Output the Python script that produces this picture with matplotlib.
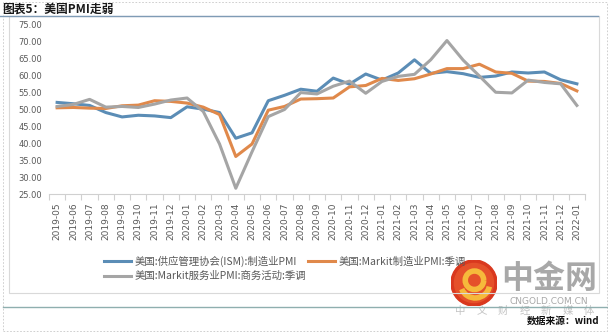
import numpy as np
import matplotlib.pyplot as plt
from matplotlib.lines import Line2D
from matplotlib.patches import Circle, Rectangle, Arc

plt.rcParams['font.family'] = ['Noto Sans CJK SC', 'DejaVu Sans']

# 月度数据
months = ['2019-05', '2019-06', '2019-07', '2019-08', '2019-09', '2019-10', '2019-11', '2019-12',
          '2020-01', '2020-02', '2020-03', '2020-04', '2020-05', '2020-06', '2020-07', '2020-08',
          '2020-09', '2020-10', '2020-11', '2020-12', '2021-01', '2021-02', '2021-03', '2021-04',
          '2021-05', '2021-06', '2021-07', '2021-08', '2021-09', '2021-10', '2021-11', '2021-12',
          '2022-01']
ism_mfg = [52.1, 51.7, 51.2, 49.1, 47.8, 48.3, 48.1, 47.6,
           50.8, 50.1, 49.1, 41.5, 43.1, 52.6, 54.2, 56.0,
           55.4, 59.3, 57.5, 60.5, 58.7, 60.8, 64.7, 60.7,
           61.2, 60.6, 59.5, 59.9, 61.1, 60.8, 61.1, 58.8,
           57.6]
markit_mfg = [50.5, 50.6, 50.4, 50.3, 51.1, 51.3, 52.6, 52.4,
              51.9, 50.7, 48.5, 36.1, 39.8, 49.8, 50.9, 53.1,
              53.2, 53.4, 56.7, 57.1, 59.2, 58.6, 59.1, 60.5,
              62.1, 62.1, 63.4, 61.1, 60.7, 58.4, 58.3, 57.7,
              55.5]
markit_svc = [50.9, 51.5, 53.0, 50.7, 50.9, 50.6, 51.6, 52.8,
              53.4, 49.4, 39.8, 26.7, 37.5, 47.9, 50.0, 55.0,
              54.6, 56.9, 58.4, 54.8, 58.3, 59.8, 60.4, 64.7,
              70.4, 64.6, 59.9, 55.1, 54.9, 58.7, 58.0, 57.6,
              51.2]
yticks = [25, 30, 35, 40, 45, 50, 55, 60, 65, 70, 75]

W, H = 608, 333
fig = plt.figure(figsize=(W / 100, H / 100), dpi=100)

def fx(px):
    return px / W

def fy(py):
    return 1 - py / H

ax = fig.add_axes([fx(49), fy(194), fx(585 - 49), fy(25) - fy(194)])
x = np.arange(len(months))

ax.plot(x, ism_mfg, color='#5B8DB6', lw=2.2, label='美国:供应管理协会(ISM):制造业PMI')
ax.plot(x, markit_mfg, color='#E0894B', lw=2.2, label='美国:Markit制造业PMI:季调')
ax.plot(x, markit_svc, color='#A5A5A5', lw=2.2, label='美国:Markit服务业PMI:商务活动:季调')

ax.set_xlim(-0.5, len(months) - 0.5)
ax.set_ylim(25, 75)
ax.set_yticks(yticks)
ax.set_yticklabels([f'{v:.2f}' for v in yticks], fontsize=6, color='#595959',
                   family=['DejaVu Sans'])
ax.set_xticks(x)
ax.set_xticklabels(months, rotation=90, fontsize=6.5, color='#595959',
                   family=['DejaVu Sans'])
ax.set_xticks(np.arange(-0.5, len(months)), minor=True)
ax.tick_params(axis='x', which='major', length=0, pad=6)
ax.tick_params(axis='x', which='minor', length=4, color='#D0D0D0', width=0.8)
ax.tick_params(axis='y', length=0, pad=5)
for s in ['left', 'right', 'top']:
    ax.spines[s].set_visible(False)
ax.spines['bottom'].set_color('#D0D0D0')
ax.spines['bottom'].set_linewidth(0.8)

# 图例：第一列 ISM / 服务业，第二列 制造业
h, l = ax.get_legend_handles_labels()
order = [0, 2, 1]
fig.legend([h[i] for i in order], [l[i] for i in order], ncol=2,
           loc='upper left', bbox_to_anchor=(fx(99), fy(250)),
           frameon=False, fontsize=7.5, labelcolor='#595959',
           handlelength=2.6, handletextpad=0.3, columnspacing=0.2,
           labelspacing=0.45, borderpad=0)

# 边框与分隔线
fig.add_artist(Rectangle((fx(9), fy(293)), fx(599 - 9), fy(16) - fy(293),
                         transform=fig.transFigure, fill=False,
                         edgecolor='#D9D9D9', lw=0.8))
fig.add_artist(Rectangle((fx(3), fy(331)), fx(604), fy(2) - fy(331),
                         transform=fig.transFigure, fill=False,
                         edgecolor='#C8C8C8', lw=0.6, ls=(0, (2, 2))))
fig.add_artist(Line2D([fx(0), fx(598)], [fy(16), fy(16)], transform=fig.transFigure,
                      color='#7F9BB5', lw=1.0))
fig.add_artist(Line2D([fx(3), fx(607)], [fy(307), fy(307)], transform=fig.transFigure,
                      color='#8FAFAF', lw=1.0))

# 标题
fig.text(fx(2), fy(9), '图表5：美国PMI走弱', fontsize=8.5, fontweight='bold',
         color='#1A1A1A', va='center', ha='left')

# 水印
logo = fig.add_axes([fx(451), fy(306), fx(46), fy(260) - fy(306)])
logo.set_xlim(-1, 1)
logo.set_ylim(-1, 1)
logo.set_aspect('equal')
logo.axis('off')
logo.add_patch(Circle((0, 0), 1.0, color='#D9381E'))
logo.add_patch(Circle((0, 0), 0.85, color='#E5502A'))
logo.add_patch(Arc((0.02, 0.12), 0.8, 0.8, theta1=0, theta2=360, color='#F6B93B', lw=4))
logo.add_patch(Arc((0.05, -0.05), 1.25, 1.2, theta1=200, theta2=350, color='#F6B93B', lw=4))
fig.text(fx(549), fy(279), '中金网', fontsize=23, fontweight='bold', color='#A8A8A8',
         ha='center', va='center')
fig.text(fx(549), fy(301), 'CNGOLD.COM.CN', fontsize=6.5, color='#A8A8A8',
         ha='center', va='center', family=['DejaVu Sans'])
for i, ch in enumerate('中文财经新媒体'):
    fig.text(fx(460 + i * 21.5), fy(311), ch, fontsize=7.5, color='#C4C4C4',
             ha='center', va='center', zorder=1)

# 数据来源
fig.text(fx(599), fy(321), '数据来源：wind', fontsize=7, fontweight='bold',
         color='#111111', ha='right', va='center', zorder=5)

fig.savefig('out.png', dpi=100)
